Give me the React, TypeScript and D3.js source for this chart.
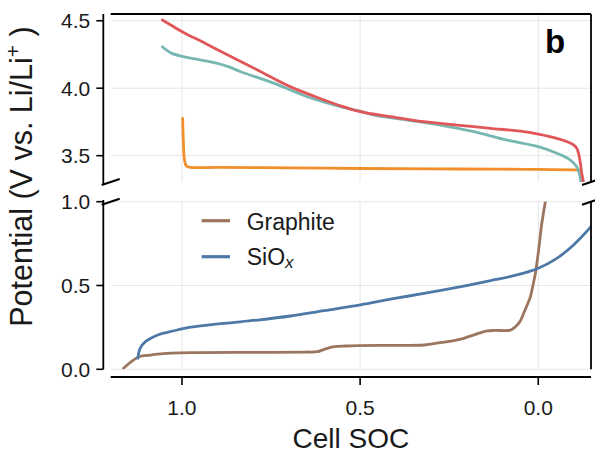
import React from "react";
import * as d3 from "d3";

// ---------- data ----------
const redX = [1.055, 1.02, 0.993, 0.94, 0.881, 0.788, 0.695, 0.601, 0.55, 0.5, 0.415, 0.321, 0.228, 0.134, 0.041, 0.0, -0.052, -0.085, -0.099, -0.108, -0.113, -0.118, -0.122, -0.127];
const redY = [4.505, 4.45, 4.41, 4.34, 4.26, 4.135, 4.01, 3.913, 3.865, 3.826, 3.789, 3.752, 3.727, 3.703, 3.678, 3.66, 3.629, 3.6, 3.58, 3.555, 3.518, 3.45, 3.37, 3.3];

const tealX = [1.055, 1.03, 0.993, 0.95, 0.909, 0.87, 0.835, 0.741, 0.648, 0.555, 0.5, 0.461, 0.368, 0.275, 0.181, 0.088, 0.0, -0.052, -0.09, -0.108, -0.115, -0.12];
const tealY = [4.307, 4.26, 4.233, 4.21, 4.19, 4.16, 4.122, 4.036, 3.937, 3.863, 3.83, 3.801, 3.764, 3.727, 3.678, 3.616, 3.567, 3.518, 3.468, 3.418, 3.37, 3.3];

const orangeX = [0.998, 0.996, 0.993, 0.988, 0.98, 0.9, 0.7, 0.5, 0.3, 0.1, 0.0, -0.1, -0.118];
const orangeY = [3.777, 3.6, 3.47, 3.425, 3.415, 3.413, 3.41, 3.405, 3.402, 3.4, 3.398, 3.395, 3.393];

const graphX = [1.164, 1.143, 1.12, 1.09, 1.068, 0.975, 0.788, 0.65, 0.62, 0.601, 0.573, 0.54, 0.508, 0.4, 0.321, 0.275, 0.24, 0.209, 0.172, 0.144, 0.12, 0.078, 0.064, 0.05, 0.041, 0.03, 0.022, 0.015, 0.008, -0.001, -0.01, -0.02, -0.03];
const graphY = [0.006, 0.045, 0.075, 0.085, 0.091, 0.099, 0.101, 0.103, 0.105, 0.119, 0.135, 0.139, 0.141, 0.143, 0.145, 0.159, 0.17, 0.185, 0.211, 0.229, 0.232, 0.234, 0.254, 0.29, 0.334, 0.39, 0.433, 0.5, 0.573, 0.712, 0.871, 1.0, 1.1];

const siX = [1.124, 1.12, 1.115, 1.105, 1.096, 1.068, 1.022, 0.975, 0.882, 0.788, 0.695, 0.601, 0.499, 0.415, 0.321, 0.228, 0.134, 0.06, 0.0, -0.052, -0.099, -0.148];
const siY = [0.066, 0.11, 0.135, 0.16, 0.175, 0.205, 0.23, 0.251, 0.274, 0.294, 0.318, 0.35, 0.384, 0.418, 0.453, 0.489, 0.529, 0.563, 0.603, 0.662, 0.742, 0.851];

const xTicks = [1.0, 0.5, 0.0];
const xTickLabels = ["1.0", "0.5", "0.0"];
const topTicks = [4.5, 4.0, 3.5];
const topTickLabels = ["4.5", "4.0", "3.5"];
const botTicks = [1.0, 0.5, 0.0];
const botTickLabels = ["1.0", "0.5", "0.0"];

const colors = {
  red: "#e15759",
  teal: "#76b7b2",
  orange: "#f28e2b",
  brown: "#9c755f",
  blue: "#4e79a7",
};

const FONT = "'Liberation Sans', Arial, Helvetica, sans-serif";

export default function App() {
  const W = 595, H = 456;
  const L = 110.7, R = 591;
  const topT = 14, topB = 182;
  const botT = 201.7, botB = 369.3;
  const spineX = 103.3;
  const xAxisY = 377;

  const x = d3.scaleLinear().domain([1.2, -0.148]).range([L, R]);
  const yTop = d3.scaleLinear().domain([3.305, 4.55]).range([topB, topT]);
  const yBot = d3.scaleLinear().domain([0, 1]).range([botB, botT]);

  const mk = (xs: number[], ys: number[], ys2: d3.ScaleLinear<number, number>) =>
    d3.line<number>()
      .x((_, i) => x(xs[i]))
      .y((_, i) => ys2(ys[i]))
      .curve(d3.curveCatmullRom.alpha(0.5))(xs) as string;

  const grid = "#e6e6e6";
  const lw = 2.8;

  const slash = (cx: number, cy: number, k: string) => (
    <line key={k} x1={cx - 9} y1={cy + 3} x2={cx + 9} y2={cy - 3} stroke="#000" strokeWidth={2} />
  );

  return (
    <svg width={W} height={H} style={{ position: "absolute", left: 0, top: 0, background: "#fff" }} fontFamily={FONT}>
      <defs>
        <clipPath id="clipTop"><rect x={L} y={topT} width={R - L} height={topB - topT} /></clipPath>
        <clipPath id="clipBot"><rect x={L} y={botT} width={R - L} height={botB - botT} /></clipPath>
      </defs>
      <rect width={W} height={H} fill="#fff" />

      {/* grids */}
      {xTicks.map((t, i) => (
        <g key={"vg" + i}>
          <line x1={x(t)} x2={x(t)} y1={topT} y2={topB} stroke={grid} strokeWidth={1} />
          <line x1={x(t)} x2={x(t)} y1={botT} y2={botB} stroke={grid} strokeWidth={1} />
        </g>
      ))}
      {topTicks.map((t, i) => (
        <line key={"hgt" + i} x1={L} x2={R} y1={yTop(t)} y2={yTop(t)} stroke={grid} strokeWidth={1} />
      ))}
      {botTicks.map((t, i) => (
        <line key={"hgb" + i} x1={L} x2={R} y1={yBot(t)} y2={yBot(t)} stroke={grid} strokeWidth={1} />
      ))}

      {/* top panel lines */}
      <g clipPath="url(#clipTop)" fill="none" strokeWidth={lw} strokeLinejoin="round" strokeLinecap="round">
        <path d={mk(orangeX, orangeY, yTop)} stroke={colors.orange} />
        <path d={mk(tealX, tealY, yTop)} stroke={colors.teal} />
        <path d={mk(redX, redY, yTop)} stroke={colors.red} />
      </g>

      {/* bottom panel lines */}
      <g clipPath="url(#clipBot)" fill="none" strokeWidth={lw} strokeLinejoin="round" strokeLinecap="round">
        <path d={mk(graphX, graphY, yBot)} stroke={colors.brown} />
        <path d={mk(siX, siY, yBot)} stroke={colors.blue} />
      </g>

      {/* spines */}
      <g stroke="#000" strokeWidth={1.8} fill="none">
        <line x1={spineX} x2={spineX} y1={topT} y2={185} />
        <line x1={L} x2={R} y1={topT} y2={topT} />
        <line x1={R} x2={R} y1={topT} y2={topB} />
        <line x1={spineX} x2={spineX} y1={200} y2={botB} />
        <line x1={R} x2={R} y1={botT} y2={botB} />
        <line x1={L} x2={R} y1={xAxisY} y2={xAxisY} />
      </g>

      {/* break marks */}
      {slash(L, topB, "s1")}
      {slash(L, botT, "s2")}
      {slash(R, topB, "s3")}
      {slash(R, botT, "s4")}

      {/* y ticks */}
      {topTicks.map((t, i) => (
        <g key={"yt" + i}>
          <line x1={spineX - 7} x2={spineX} y1={yTop(t)} y2={yTop(t)} stroke="#000" strokeWidth={1.6} />
          <text x={spineX - 13} y={yTop(t) + 7.5} textAnchor="end" fontSize={21} fill="#1a1a1a">{topTickLabels[i]}</text>
        </g>
      ))}
      {botTicks.map((t, i) => (
        <g key={"yb" + i}>
          <line x1={spineX - 7} x2={spineX} y1={yBot(t)} y2={yBot(t)} stroke="#000" strokeWidth={1.6} />
          <text x={spineX - 13} y={yBot(t) + 7.5} textAnchor="end" fontSize={21} fill="#1a1a1a">{botTickLabels[i]}</text>
        </g>
      ))}

      {/* x ticks */}
      {xTicks.map((t, i) => (
        <g key={"xt" + i}>
          <line x1={x(t)} x2={x(t)} y1={xAxisY} y2={xAxisY + 8} stroke="#000" strokeWidth={1.6} />
          <text x={x(t)} y={414.5} textAnchor="middle" fontSize={21} fill="#1a1a1a">{xTickLabels[i]}</text>
        </g>
      ))}

      {/* axis labels */}
      <text x={(L + R) / 2} y={448.3} textAnchor="middle" fontSize={28} fill="#1a1a1a">Cell SOC</text>
      <text transform="translate(31.5,176.5) rotate(-90)" textAnchor="middle" fontSize={30.5} fill="#1a1a1a">
        Potential (V vs. Li/Li<tspan fontSize={21} dy={-12}>+</tspan><tspan dy={12}> )</tspan>
      </text>

      {/* panel label */}
      <text x={545} y={53.3} fontSize={33} fontWeight="bold" fill="#000">b</text>

      {/* legend */}
      <line x1={201.7} x2={230} y1={220.7} y2={220.7} stroke={colors.brown} strokeWidth={3.2} />
      <text x={246.7} y={229.5} fontSize={23} fill="#1a1a1a">Graphite</text>
      <line x1={201.7} x2={230} y1={256.7} y2={256.7} stroke={colors.blue} strokeWidth={3.2} />
      <text x={246.7} y={265} fontSize={23} fill="#1a1a1a">SiO<tspan fontSize={17} fontStyle="italic" dy={3}>x</tspan></text>
    </svg>
  );
}
